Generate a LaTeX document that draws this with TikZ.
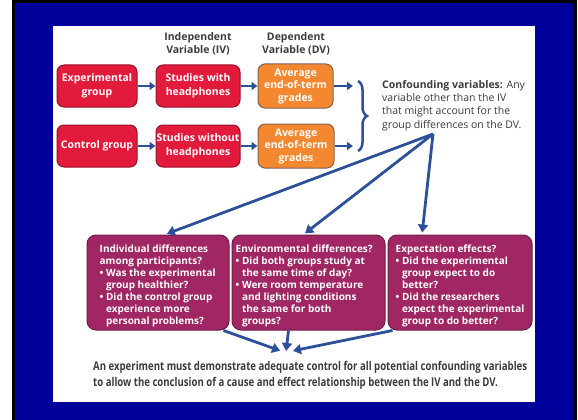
\documentclass[tikz,border=0pt]{standalone}
\usepackage{fontspec}
\setmainfont{Open Sans}
\newfontfamily\condfont[FakeStretch=0.8]{Open Sans}
\usetikzlibrary{arrows.meta,decorations.pathreplacing,calc}
\definecolor{bgblue}{RGB}{0,0,155}
\definecolor{boxred}{RGB}{226,26,60}
\definecolor{redline}{RGB}{150,20,45}
\definecolor{boxorange}{RGB}{243,136,48}
\definecolor{orangeline}{RGB}{130,100,80}
\definecolor{boxpurple}{RGB}{160,38,100}
\definecolor{purpleline}{RGB}{110,30,70}
\definecolor{arrowblue}{RGB}{45,80,155}
\definecolor{darktext}{RGB}{60,60,60}
\begin{document}
\begin{tikzpicture}[x=1pt,y=-1pt,
  topbox/.style={draw=redline, line width=1pt, fill=boxred, rounded corners=7pt, text=white,
    font=\bfseries\fontsize{10.5}{13.5}\selectfont, align=center, inner sep=0pt,
    minimum height=42pt},
  dvbox/.style={topbox, draw=orangeline, fill=boxorange, minimum height=44pt,
    font=\bfseries\fontsize{10.5}{12.5}\selectfont},
  qbox/.style={draw=purpleline, line width=1pt, fill=boxpurple, rounded corners=9pt,
    inner sep=0pt, minimum height=95pt, anchor=center},
  qtext/.style={text=white, font=\bfseries\fontsize{10}{11.9}\selectfont, align=left,
    inner sep=0pt, anchor=west},
  header/.style={text=darktext, font=\bfseries\fontsize{10.5}{13}\selectfont, align=center, inner sep=0pt},
  arr/.style={draw=arrowblue, line width=2.6pt, -{Triangle[length=6pt,width=8pt]}},
  bigarr/.style={draw=arrowblue, line width=2.8pt, -{Triangle[length=8pt,width=10pt]}, shorten >=1pt},
]
\useasboundingbox (0,0) rectangle (578,420);
\fill[white] (0,0) rectangle (578,420);
\fill[black] (12,0) rectangle (577,420);
\fill[bgblue] (15,3) rectangle (573,420);
\fill[white] (53,26) rectangle (535,402);

% headers
\node[header] (hiv) at (198,43.5) {Independent\\Variable (IV)};
\node[header] (hdv) at (296,43.5) {Dependent\\Variable (DV)};

% top rows
\node[topbox, minimum width=80pt] (exp) at (97,86) {Experimental\\group};
\node[topbox, minimum width=84pt] (iv1) at (198,86) {Studies with\\headphones};
\node[dvbox, minimum width=75pt] (dv1) at (295.5,86) {Average\\end-of-term\\grades};
\node[topbox, minimum width=80pt] (ctl) at (97,146) {Control group};
\node[topbox, minimum width=84pt] (iv2) at (198,146) {Studies without\\headphones};
\node[dvbox, minimum width=76pt] (dv2) at (296,146) {Average\\end-of-term\\grades};

\draw[arr] (exp) -- (iv1);
\draw[arr] (iv1) -- (dv1);
\draw[arr] (ctl) -- (iv2);
\draw[arr] (iv2) -- (dv2);

\coordinate (br1) at (353,86);
\coordinate (br2) at (353,146);
\draw[arr] (dv1.east) -- (br1);
\draw[arr] (dv2.east) -- (br2);
\coordinate (bt) at (358,81);
\coordinate (bb) at (358,151);
\draw[arrowblue, line width=2.5pt, decorate, decoration={brace, amplitude=9pt}] (bt) -- (bb);

\node[anchor=north west, text=darktext, align=left, inner sep=0pt,
  font=\fontsize{10.5}{13.3}\selectfont] (conf) at (382,80)
  {\textbf{Confounding variables:} Any\\variable other than the IV\\that might account for the\\group differences on the DV.};

\coordinate (apex) at (433,134);

% question boxes
\node[qbox, minimum width=142pt] (b1) at (158,282.5) {};
\node[qbox, minimum width=153pt] (b2) at (308.5,282.5) {};
\node[qbox, minimum width=144pt] (b3) at (460,282.5) {};
\node[qtext] (t1) at ([xshift=13pt,yshift=-3.5pt]b1.west)
 {Individual differences\\among participants?\\
  • Was the experimental\\\phantom{• }group healthier?\\
  • Did the control group\\\phantom{• }experience more\\\phantom{• }personal problems?};
\node[qtext] (t2) at ([xshift=4pt,yshift=-3.5pt]b2.west)
 {Environmental differences?\\
  • Did both groups study at\\\phantom{• }the same time of day?\\
  • Were room temperature\\\phantom{• }and lighting conditions\\\phantom{• }the same for both\\\phantom{• }groups?};
\node[qtext] (t3) at ([xshift=8pt,yshift=-3.5pt]b3.west)
 {Expectation effects?\\
  • Did the experimental\\\phantom{• }group expect to do\\\phantom{• }better?\\
  • Did the researchers\\\phantom{• }expect the experimental\\\phantom{• }group to do better?};

\draw[bigarr, shorten >=2pt] (apex) -- ([xshift=7pt]b1.north);
\draw[bigarr, shorten >=2pt] (apex) -- ([xshift=-5pt]b2.north);
\draw[bigarr, shorten >=2pt] (apex) -- ([xshift=-38pt]b3.north);

% conclusion
\node[text=darktext, align=left, inner sep=0pt, anchor=west,
  font=\condfont\bfseries\fontsize{12}{16}\selectfont] (concl) at (93,375)
 {An experiment must demonstrate adequate control for all potential confounding variables\\
  to allow the conclusion of a cause and effect relationship between the IV and the DV.};
\coordinate (g1) at (281,351);
\coordinate (g2) at (286,352);
\coordinate (g3) at (292,351);
\draw[bigarr] ([xshift=-6pt]b1.south east) -- (g1);
\draw[bigarr] ([xshift=-20pt]b2.south) -- (g2);
\draw[bigarr] ([xshift=5pt]b3.south west) -- (g3);
\end{tikzpicture}
\end{document}
